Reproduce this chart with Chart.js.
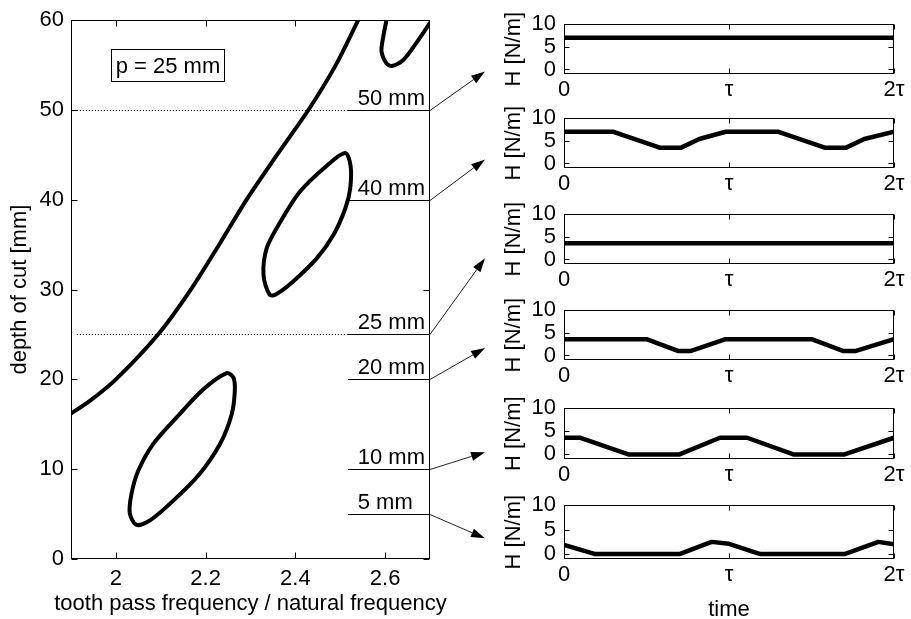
<!DOCTYPE html>
<html><head><meta charset="utf-8">
<script src="https://cdn.jsdelivr.net/npm/chart.js@4/dist/chart.umd.min.js"></script>
<style>
html,body{margin:0;padding:0;background:#fff;overflow:hidden}
#wrap{position:relative;width:911px;height:619px;overflow:hidden;background:#fff}
canvas{position:absolute}
</style></head><body><div id="wrap"></div>
<script>
// ---------- data ----------
const xTicksMain = [2, 2.2, 2.4, 2.6];
const yTicksMain = [0, 10, 20, 30, 40, 50, 60];

// long stability boundary
const curveAx = [1.9, 1.942, 2.0, 2.094, 2.167, 2.230, 2.291, 2.359, 2.429, 2.490, 2.540];
const curveAy = [16.2, 17.6, 20.0, 25.0, 30.0, 35.0, 40.0, 45.0, 50.0, 55.0, 60.0];
// middle island (closed loop)
const curveBx = [2.410, 2.470, 2.511, 2.523, 2.522, 2.511, 2.485, 2.448, 2.395, 2.358, 2.343, 2.329, 2.336, 2.366, 2.410];
const curveBy = [40.9, 43.8, 45.2, 43.8, 41.2, 39.0, 36.1, 33.5, 30.9, 29.5, 29.4, 31.6, 34.6, 37.5, 40.9];
// lower island (closed loop)
const curveCx = [2.083, 2.136, 2.195, 2.247, 2.262, 2.265, 2.258, 2.232, 2.187, 2.128, 2.076, 2.046, 2.031, 2.035, 2.050, 2.083];
const curveCy = [12.8, 15.8, 18.9, 20.7, 20.2, 18.7, 16.1, 12.8, 9.5, 6.5, 4.3, 3.8, 5.1, 7.3, 9.85, 12.8];
// top-right island
const curveDx = [2.603, 2.596, 2.592, 2.603, 2.615, 2.641, 2.670, 2.700];
const curveDy = [60.0, 58.2, 56.5, 55.2, 54.9, 55.6, 57.5, 59.7];

const labelDepths = [50, 40, 25, 20, 10, 5];
const dottedDepths = [50, 25];
const boxText = 'p = 25 mm';

// right-hand panels: time in units of tau, H in N/m
const panelTimeTicks = [0, 1, 2];
const panelTimeLabels = ['0', 'τ', '2τ'];
const panelHTicks = [0, 5, 10];
const h50t = [0, 2];
const h50h = [7, 7];
const h40t = [0, 0.30, 0.58, 0.71, 0.82, 0.98, 1.30, 1.58, 1.71, 1.82, 2.0];
const h40h = [7, 7, 3.5, 3.5, 5.4, 7, 7, 3.5, 3.5, 5.4, 7];
const h25t = [0, 2];
const h25h = [3.6, 3.6];
const h20t = [0, 0.50, 0.69, 0.77, 0.98, 1.50, 1.69, 1.77, 2.0];
const h20h = [3.6, 3.6, 1.0, 1.0, 3.6, 3.6, 1.0, 1.0, 3.6];
const h10t = [0, 0.10, 0.39, 0.70, 0.945, 1.11, 1.39, 1.70, 2.0];
const h10h = [3.6, 3.6, 0, 0, 3.6, 3.6, 0, 0, 3.6];
const h5t = [0, 0.19, 0.70, 0.895, 1.0, 1.19, 1.70, 1.905, 2.0];
const h5h = [1.9, 0, 0, 2.5, 2.1, 0, 0, 2.5, 2.0];

// ---------- layout / style ----------
const FONT = '"Liberation Sans", Arial, sans-serif';
const FS = 22;
Chart.defaults.font.family = FONT;
Chart.defaults.font.size = FS;
Chart.defaults.color = '#000';
const labelLineFrom = 2.517, dottedFrom = 1.913, labelTextX = 2.539;
const boxX = [1.989, 2.241], boxY = [53.2, 56.8];
const arrowTipX = 2.8226;
const arrowTipDepths = [54.3, 44.5, 33.5, 23.5, 11.9, 2.3];
const panelTops = [18, 112, 208, 304, 402, 499];
const panelBottoms = [74, 168, 264, 360, 459, 559];

const wrap = document.getElementById('wrap');
function mkCanvas(left, top, w, h) {
  const c = document.createElement('canvas');
  c.width = w; c.height = h;
  c.style.left = left + 'px'; c.style.top = top + 'px';
  c.style.width = w + 'px'; c.style.height = h + 'px';
  wrap.appendChild(c);
  return c;
}
const toPts = (xs, ys) => xs.map((x, i) => ({x: x, y: ys[i]}));
// closed loop: pad with neighbours so the spline is smooth at the seam; padding segments are hidden
function loopPts(xs, ys) {
  const p = toPts(xs, ys);
  const n = p.length;
  return [p[n - 2]].concat(p, [p[1]]);
}

const boxTicks = {
  id: 'boxTicks',
  afterDatasetsDraw(chart, args, opts) {
    const {ctx, chartArea: a, scales: {x, y}} = chart;
    const L = Math.round(a.left) + 0.5, R = Math.round(a.right) - 0.5;
    const T = Math.round(a.top) + 0.5, B = Math.round(a.bottom) - 0.5;
    const len = opts.len || 5;
    ctx.save();
    ctx.strokeStyle = '#000'; ctx.lineWidth = 1;
    ctx.strokeRect(L, T, R - L, B - T);
    ctx.beginPath();
    x.ticks.forEach(t => {
      const p = Math.round(x.getPixelForValue(t.value)) + 0.5;
      ctx.moveTo(p, B); ctx.lineTo(p, B - len);
      ctx.moveTo(p, T); ctx.lineTo(p, T + len);
    });
    y.ticks.forEach(t => {
      const p = Math.round(y.getPixelForValue(t.value)) + 0.5;
      ctx.moveTo(L, p); ctx.lineTo(L + len, p);
      ctx.moveTo(R, p); ctx.lineTo(R - len, p);
    });
    ctx.stroke();
    // axis titles (drawn without width squeezing)
    ctx.fillStyle = '#000';
    ctx.font = FS + 'px ' + FONT;
    ctx.textAlign = 'center'; ctx.textBaseline = 'middle';
    if (opts.xText) {
      ctx.fillText(opts.xText, (a.left + a.right) / 2, chart.height - opts.xFromBottom);
    }
    if (opts.yText) {
      ctx.save();
      ctx.translate(opts.yX, (a.top + a.bottom) / 2);
      ctx.rotate(-Math.PI / 2);
      ctx.fillText(opts.yText, 0, 0);
      ctx.restore();
    }
    ctx.restore();
  }
};

const annot = {
  id: 'annot',
  beforeDatasetsDraw(chart) {
    const {ctx, scales: {x, y}} = chart;
    ctx.save();
    ctx.strokeStyle = '#000'; ctx.lineWidth = 1;
    ctx.setLineDash([1, 2]);
    dottedDepths.forEach(d => {
      const py = Math.round(y.getPixelForValue(d)) + 0.5;
      ctx.beginPath();
      ctx.moveTo(x.getPixelForValue(dottedFrom), py);
      ctx.lineTo(x.getPixelForValue(labelLineFrom), py);
      ctx.stroke();
    });
    ctx.setLineDash([]);
    labelDepths.forEach(d => {
      const py = Math.round(y.getPixelForValue(d)) + 0.5;
      ctx.beginPath();
      ctx.moveTo(Math.round(x.getPixelForValue(labelLineFrom)), py);
      ctx.lineTo(x.right, py);
      ctx.stroke();
    });
    ctx.restore();
  },
  afterDraw(chart) {
    const {ctx, scales: {x, y}} = chart;
    ctx.save();
    ctx.font = FS + 'px ' + FONT;
    ctx.fillStyle = '#000';
    ctx.textAlign = 'left';
    ctx.textBaseline = 'alphabetic';
    labelDepths.forEach((d, i) => {
      const py = Math.round(y.getPixelForValue(d)) + 0.5;
      ctx.fillText(d + ' mm', x.getPixelForValue(labelTextX), py - 5.5);
      // arrow
      const sx = x.right, sy = py;
      const tx = x.getPixelForValue(arrowTipX), ty = y.getPixelForValue(arrowTipDepths[i]);
      const ang = Math.atan2(ty - sy, tx - sx);
      const hl = 14, hw = 4.5;
      const bx = tx - hl * Math.cos(ang), by = ty - hl * Math.sin(ang);
      ctx.strokeStyle = '#222'; ctx.lineWidth = 1;
      ctx.beginPath(); ctx.moveTo(sx, sy); ctx.lineTo(bx, by); ctx.stroke();
      ctx.beginPath();
      ctx.moveTo(tx, ty);
      ctx.lineTo(bx - hw * Math.sin(ang), by + hw * Math.cos(ang));
      ctx.lineTo(bx + hw * Math.sin(ang), by - hw * Math.cos(ang));
      ctx.closePath(); ctx.fill();
    });
    // parameter box
    const x0 = Math.round(x.getPixelForValue(boxX[0])) + 0.5, x1 = Math.round(x.getPixelForValue(boxX[1])) + 0.5;
    const y0 = Math.round(y.getPixelForValue(boxY[1])) + 0.5, y1 = Math.round(y.getPixelForValue(boxY[0])) + 0.5;
    ctx.fillStyle = '#fff';
    ctx.fillRect(x0, y0, x1 - x0, y1 - y0);
    ctx.strokeStyle = '#000'; ctx.lineWidth = 1;
    ctx.strokeRect(x0, y0, x1 - x0, y1 - y0);
    ctx.fillStyle = '#000';
    ctx.textAlign = 'center'; ctx.textBaseline = 'middle';
    ctx.fillText(boxText, (x0 + x1) / 2, (y0 + y1) / 2 + 1);
    ctx.restore();
  }
};

// ---------- main chart ----------
const mainCanvas = mkCanvas(0, 0, 911, 619);
const curveStyle = {showLine: true, borderColor: '#000', borderWidth: 4, pointRadius: 0, tension: 0.3,
  borderCapStyle: 'round', borderJoinStyle: 'round', fill: false};
const hideSeam = n => ({borderColor: c => (c.p0DataIndex === 0 || c.p1DataIndex === n - 1) ? 'rgba(0,0,0,0)' : undefined});
const ptsB = loopPts(curveBx, curveBy), ptsC = loopPts(curveCx, curveCy);
new Chart(mainCanvas, {
  type: 'scatter',
  data: {datasets: [
    Object.assign({data: toPts(curveAx, curveAy)}, curveStyle),
    Object.assign({data: ptsB, segment: hideSeam(ptsB.length)}, curveStyle),
    Object.assign({data: ptsC, segment: hideSeam(ptsC.length)}, curveStyle),
    Object.assign({data: toPts(curveDx, curveDy)}, curveStyle)
  ]},
  options: {
    responsive: false, animation: false, devicePixelRatio: 1,
    layout: {padding: {left: 0, top: 17, right: 481, bottom: 0}},
    plugins: {legend: {display: false}, tooltip: {enabled: false},
      boxTicks: {len: 6, xText: 'tooth pass frequency / natural frequency', xFromBottom: 15.5,
        yText: 'depth of cut [mm]', yX: 20}},
    scales: {
      x: {
        type: 'linear', min: 1.9, max: 2.7,
        grid: {display: false, drawTicks: false}, border: {display: false},
        afterBuildTicks: s => { s.ticks = xTicksMain.map(v => ({value: v})); },
        afterFit: s => { s.height = 60; },
        ticks: {padding: 6.5, autoSkip: false, maxRotation: 0, callback: v => String(v)}
      },
      y: {
        type: 'linear', min: 0, max: 60,
        grid: {display: false, drawTicks: false}, border: {display: false},
        afterBuildTicks: s => { s.ticks = yTicksMain.map(v => ({value: v})); },
        afterFit: s => { s.width = 71; },
        ticks: {padding: 7, autoSkip: false, callback: v => String(v)}
      }
    }
  },
  plugins: [boxTicks, annot]
});

// ---------- right-hand panels ----------
const panels = [[h50t, h50h], [h40t, h40h], [h25t, h25h], [h20t, h20h], [h10t, h10h], [h5t, h5h]];
panels.forEach((p, i) => {
  const isLast = i === panels.length - 1;
  const top = panelTops[i] - 15;
  const ph = panelBottoms[i] - panelTops[i];
  const h = isLast ? 625 - top : ph + 15 + 34;
  const xh = h - 15 - ph;
  const c = mkCanvas(490, top, 421, h);
  new Chart(c, {
    type: 'scatter',
    data: {datasets: [{data: toPts(p[0], p[1]), showLine: true, borderColor: '#000', borderWidth: 4.5,
      pointRadius: 0, tension: 0, borderJoinStyle: 'round', borderCapStyle: 'butt', fill: false}]},
    options: {
      responsive: false, animation: false, devicePixelRatio: 1,
      layout: {padding: {left: 0, top: 15, right: 17, bottom: 0}},
      plugins: {legend: {display: false}, tooltip: {enabled: false},
        boxTicks: {len: 5, yText: 'H [N/m]', yX: 24, xText: isLast ? 'time' : '', xFromBottom: 15.5}},
      scales: {
        x: {
          type: 'linear', min: 0, max: 2,
          grid: {display: false, drawTicks: false}, border: {display: false},
          afterBuildTicks: s => { s.ticks = panelTimeTicks.map(v => ({value: v})); },
          afterFit: s => { s.height = xh; },
          ticks: {padding: 3, autoSkip: false, maxRotation: 0,
            callback: v => panelTimeLabels[panelTimeTicks.indexOf(v)]}
        },
        y: {
          type: 'linear', min: -1, max: 10,
          grid: {display: false, drawTicks: false}, border: {display: false},
          afterBuildTicks: s => { s.ticks = panelHTicks.map(v => ({value: v})); },
          afterFit: s => { s.width = 74; },
          ticks: {padding: 8, autoSkip: false, callback: v => String(v)}
        }
      }
    },
    plugins: [boxTicks]
  });
});
</script>
</body></html>
